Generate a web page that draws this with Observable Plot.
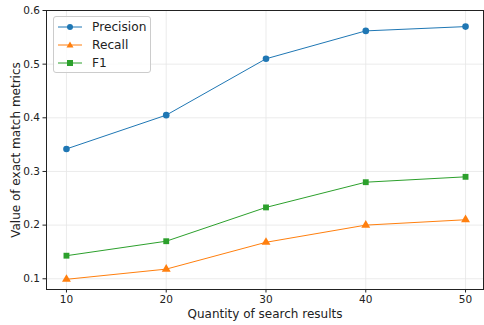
<!DOCTYPE html>
<html><head><meta charset="utf-8">
<script src="https://cdn.jsdelivr.net/npm/d3@7"></script>
<script src="https://cdn.jsdelivr.net/npm/@observablehq/plot@0.6"></script>
<style>
body{margin:0;background:#fff;font-family:"DejaVu Sans",sans-serif;}
#wrap{position:relative;width:484px;height:325px;}
#legend{position:absolute;left:53px;top:16px;width:98px;height:57px;border:1px solid #ccc;border-radius:3px;background:rgba(255,255,255,0.8);font-size:12.2px;color:#222;box-sizing:border-box;}
.item{position:absolute;left:4px;height:14px;display:flex;align-items:center;}
.item span{margin-left:10px;}
g[aria-label="x-axis label"] text, g[aria-label="y-axis label"] text{font-size:12px;}
</style></head>
<body><div id="wrap"><div id="legend"></div></div>
<script>
const quantities = [10, 20, 30, 40, 50];
const precision = [0.342, 0.405, 0.510, 0.562, 0.570];
const recall = [0.099, 0.118, 0.168, 0.200, 0.210];
const f1 = [0.143, 0.170, 0.233, 0.280, 0.290];
const seriesNames = ["Precision", "Recall", "F1"];
const colors = ["#1f77b4", "#ff7f0e", "#2ca02c"];
const symbols = ["circle", "triangle", "square"];
const yTicks = [0.1, 0.2, 0.3, 0.4, 0.5, 0.6];

const seriesValues = [precision, recall, f1];
const data = [];
seriesNames.forEach((s, i) => quantities.forEach((q, j) => data.push({series: s, q, v: seriesValues[i][j]})));

const chart = Plot.plot({
  width: 484, height: 325,
  marginLeft: 46, marginRight: 1, marginTop: 10, marginBottom: 36,
  style: {fontFamily: "DejaVu Sans, sans-serif", fontSize: "10.5px", color: "#222"},
  x: {domain: [8, 51.8], ticks: quantities, tickFormat: d => String(d), label: "Quantity of search results", labelAnchor: "center", labelArrow: "none", labelOffset: 28, tickSize: 3.5, tickPadding: 3},
  y: {domain: [0.08, 0.6], ticks: yTicks, tickFormat: d3.format(".1f"), label: "Value of exact match metrics", labelAnchor: "center", labelArrow: "none", labelOffset: 35, tickSize: 3.5, tickPadding: 3},
  color: {domain: seriesNames, range: colors},
  symbol: {domain: seriesNames, range: symbols},
  marks: [
    Plot.gridX(quantities, {stroke: "#e6e6e6", strokeOpacity: 1, strokeWidth: 0.8}),
    Plot.gridY(yTicks, {stroke: "#e6e6e6", strokeOpacity: 1, strokeWidth: 0.8}),
    Plot.line(data, {x: "q", y: "v", z: "series", stroke: "series", strokeWidth: 1}),
    Plot.dot(data, {x: "q", y: "v", symbol: "series", fill: "series", r: 3.3, stroke: null}),
    Plot.frame({stroke: "#222", strokeWidth: 1})
  ]
});
document.getElementById("wrap").prepend(chart);

const legend = document.getElementById("legend");
seriesNames.forEach((s, i) => {
  const div = document.createElement("div");
  div.className = "item";
  div.style.top = (3 + i * 18) + "px";
  const sym = symbols[i] === "circle" ? `<circle cx="12" cy="7" r="3" fill="${colors[i]}"/>`
    : symbols[i] === "triangle" ? `<path d="M12,3.5L15.5,9.5L8.5,9.5Z" fill="${colors[i]}"/>`
    : `<rect x="9" y="4" width="6" height="6" fill="${colors[i]}"/>`;
  div.innerHTML = `<svg width="24" height="14"><line x1="0" x2="24" y1="7" y2="7" stroke="${colors[i]}" stroke-width="1"/>${sym}</svg><span>${s}</span>`;
  legend.appendChild(div);
});
</script></body></html>
